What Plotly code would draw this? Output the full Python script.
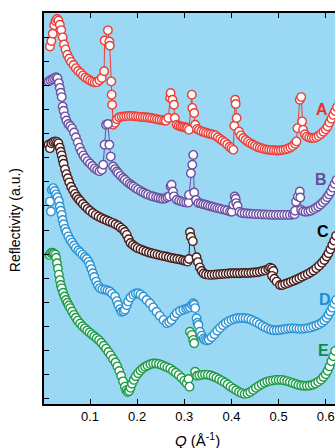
import plotly.graph_objects as go

# Momentum transfer Q (1/Å) and offset log-reflectivity for five films A–E

q_a = [0.015, 0.018, 0.021, 0.024, 0.027, 0.030, 0.033, 0.036, 0.039, 0.042, 0.045, 0.048, 0.052,
       0.056, 0.060, 0.065, 0.070, 0.075, 0.080, 0.085, 0.090, 0.095, 0.100, 0.105, 0.110, 0.115,
       0.120, 0.125, 0.130, 0.131, 0.138, 0.141, 0.142, 0.145, 0.146, 0.147, 0.149,
       0.153, 0.157, 0.162, 0.167, 0.172, 0.177, 0.182, 0.187, 0.192, 0.197, 0.202, 0.207, 0.212,
       0.217, 0.222, 0.227, 0.232, 0.237, 0.242, 0.247, 0.252, 0.257, 0.261,
       0.266, 0.270, 0.271, 0.275, 0.278, 0.280, 0.284,
       0.288, 0.292, 0.296, 0.300, 0.304, 0.306, 0.310,
       0.316, 0.317, 0.321, 0.323,
       0.327, 0.331, 0.336, 0.341, 0.346, 0.351, 0.356, 0.361, 0.366, 0.371, 0.376, 0.381, 0.386,
       0.391, 0.396, 0.400, 0.404,
       0.406, 0.408, 0.409, 0.411, 0.416,
       0.420, 0.425, 0.430, 0.435, 0.440, 0.445, 0.450, 0.455, 0.460, 0.465, 0.470, 0.475, 0.480,
       0.485, 0.490, 0.495, 0.500, 0.505, 0.510, 0.515, 0.520, 0.525, 0.530, 0.535, 0.538,
       0.540, 0.545, 0.548, 0.550, 0.552,
       0.556, 0.560, 0.565, 0.570, 0.575, 0.580, 0.585, 0.590, 0.595, 0.600, 0.604, 0.608, 0.612,
       0.616, 0.620, 0.624]
r_a = [14.62, 14.85, 15.15, 15.50, 15.68, 15.76, 15.70, 15.52, 15.30, 15.00, 14.70, 14.50, 14.28,
       14.12, 13.98, 13.85, 13.72, 13.60, 13.52, 13.42, 13.33, 13.27, 13.21, 13.16, 13.13, 13.14,
       13.22, 13.31, 13.59, 14.87, 15.29, 14.83, 14.65, 13.17, 12.62, 12.20, 11.37,
       11.45, 11.60, 11.68, 11.71, 11.72, 11.73, 11.74, 11.74, 11.73, 11.72, 11.71, 11.70, 11.69,
       11.68, 11.67, 11.66, 11.64, 11.62, 11.60, 11.58, 11.57, 11.55, 11.54,
       11.65, 12.48, 12.69, 12.41, 12.20, 11.65, 11.37,
       11.33, 11.30, 11.29, 11.28, 11.26, 11.22, 11.16,
       12.62, 12.07, 11.86, 11.37,
       11.20, 11.15, 11.10, 11.07, 11.04, 11.01, 10.99, 10.96, 10.93, 10.85, 10.78, 10.71, 10.64,
       10.55, 10.46, 10.40, 10.33,
       11.33, 12.41, 12.23, 11.65, 11.09,
       10.93, 10.82, 10.74, 10.67, 10.60, 10.55, 10.50, 10.45, 10.42, 10.39, 10.36, 10.34, 10.33,
       10.32, 10.31, 10.30, 10.30, 10.31, 10.33, 10.35, 10.38, 10.43, 10.49, 10.58, 10.68,
       11.23, 12.41, 12.52, 11.51, 11.16,
       10.98, 10.88, 10.84, 10.82, 10.82, 10.85, 10.91, 10.99, 11.08, 11.18, 11.30, 11.46, 11.62,
       11.78, 11.94, 12.10]

q_b = [0.012, 0.016, 0.020, 0.024, 0.028, 0.031, 0.034, 0.036, 0.038, 0.040, 0.042, 0.044, 0.047,
       0.050, 0.054, 0.058, 0.062, 0.066, 0.070, 0.074, 0.078, 0.082, 0.086, 0.090, 0.095, 0.100,
       0.105, 0.110, 0.115, 0.120, 0.125, 0.128,
       0.131, 0.134, 0.138, 0.141, 0.144,
       0.149, 0.153, 0.157, 0.160, 0.165, 0.170, 0.174, 0.179, 0.184, 0.188, 0.192, 0.197, 0.202,
       0.208, 0.213, 0.218, 0.223, 0.229, 0.234, 0.240, 0.245, 0.250, 0.255, 0.260, 0.264,
       0.268, 0.271, 0.273, 0.276, 0.278, 0.284,
       0.289, 0.294, 0.299, 0.304, 0.309,
       0.310, 0.314, 0.317, 0.319, 0.321, 0.325,
       0.330, 0.335, 0.340, 0.345, 0.350, 0.355, 0.360, 0.365, 0.370, 0.375, 0.380, 0.386, 0.391,
       0.397, 0.401,
       0.404, 0.407, 0.409, 0.410, 0.413, 0.417,
       0.422, 0.428, 0.434, 0.440, 0.446, 0.452, 0.458, 0.464, 0.470, 0.476, 0.482, 0.488, 0.494,
       0.500, 0.506, 0.512, 0.518, 0.524, 0.530, 0.534,
       0.535, 0.537, 0.541, 0.545, 0.546, 0.548,
       0.552, 0.557, 0.563, 0.568, 0.574, 0.579, 0.584, 0.589, 0.594, 0.599, 0.603, 0.607, 0.611,
       0.615, 0.619, 0.623]
r_b = [13.17, 13.22, 13.26, 13.30, 13.34, 13.30, 13.10, 12.90, 12.70, 12.52, 12.13, 11.95, 11.72,
       11.55, 11.40, 11.32, 11.22, 11.05, 10.85, 10.64, 10.42, 10.25, 10.10, 9.98, 9.86, 9.76,
       9.66, 9.56, 9.49, 9.44, 9.50, 9.71,
       10.54, 11.37, 11.40, 10.54, 10.05,
       9.64, 9.53, 9.43, 9.36, 9.25, 9.16, 9.09, 9.00, 8.92, 8.86, 8.81, 8.74, 8.68,
       8.61, 8.56, 8.51, 8.47, 8.42, 8.39, 8.36, 8.33, 8.31, 8.30, 8.32, 8.36,
       8.40, 8.81, 8.88, 8.60, 8.40, 8.26,
       8.22, 8.19, 8.16, 8.14, 8.14,
       8.46, 9.36, 9.71, 10.12, 8.56, 8.25,
       8.12, 8.10, 8.07, 8.05, 8.02, 7.99, 7.97, 7.94, 7.91, 7.89, 7.86, 7.84, 7.81,
       7.77, 7.76,
       8.05, 8.39, 8.30, 8.12, 8.00, 7.76,
       7.71, 7.70, 7.69, 7.68, 7.67, 7.66, 7.66, 7.65, 7.65, 7.64, 7.64, 7.63, 7.63,
       7.63, 7.63, 7.63, 7.63, 7.63, 7.64, 7.66,
       7.80, 8.18, 8.39, 8.60, 8.35, 7.84,
       7.78, 7.76, 7.77, 7.80, 7.86, 7.92, 7.98, 8.06, 8.15, 8.25, 8.36, 8.48, 8.60,
       8.76, 8.92, 9.08]

q_c = [0.012, 0.015, 0.018, 0.022, 0.026, 0.030, 0.033, 0.036, 0.038, 0.040, 0.042, 0.044, 0.047,
       0.050, 0.053, 0.056, 0.060, 0.064, 0.068, 0.072, 0.076, 0.080, 0.085, 0.090, 0.095, 0.100,
       0.106, 0.112, 0.118, 0.124, 0.130, 0.136, 0.142, 0.148, 0.154, 0.160, 0.165, 0.170, 0.174,
       0.178, 0.182, 0.186, 0.191, 0.196, 0.201, 0.207, 0.213, 0.219, 0.225, 0.231, 0.237, 0.243,
       0.249, 0.255, 0.261, 0.267, 0.273, 0.279, 0.285, 0.291, 0.297, 0.302, 0.307,
       0.310, 0.312, 0.314, 0.318, 0.326, 0.329,
       0.333, 0.337, 0.341, 0.346, 0.352, 0.358, 0.364, 0.370, 0.376, 0.382, 0.388, 0.394, 0.400,
       0.406, 0.412, 0.418, 0.424, 0.430, 0.436, 0.442, 0.448, 0.454, 0.460, 0.466,
       0.472, 0.478, 0.482, 0.486, 0.489, 0.486, 0.491, 0.496, 0.503,
       0.508, 0.514, 0.520, 0.526, 0.532, 0.538, 0.544, 0.550, 0.556, 0.562, 0.568, 0.574, 0.580,
       0.586, 0.592, 0.597, 0.602, 0.606, 0.610, 0.614, 0.618, 0.622]
r_c = [10.54, 10.40, 10.60, 10.66, 10.68, 10.66, 10.60, 10.42, 10.25, 10.10, 9.92, 9.75, 9.52,
       9.32, 9.15, 8.98, 8.80, 8.65, 8.50, 8.38, 8.28, 8.20, 8.08, 7.98, 7.88, 7.80,
       7.71, 7.63, 7.56, 7.50, 7.45, 7.40, 7.35, 7.30, 7.24, 7.18, 7.10, 7.02, 6.92,
       6.80, 6.62, 6.46, 6.38, 6.31, 6.25, 6.20, 6.15, 6.11, 6.07, 6.04, 6.01, 5.98,
       5.95, 5.92, 5.90, 5.87, 5.84, 5.82, 5.80, 5.78, 5.75, 5.72, 5.69,
       5.80, 6.91, 6.71, 6.54, 5.87, 5.67,
       5.45, 5.30, 5.20, 5.16, 5.14, 5.14, 5.15, 5.16, 5.17, 5.18, 5.19, 5.20, 5.21,
       5.21, 5.21, 5.21, 5.22, 5.22, 5.22, 5.23, 5.24, 5.25, 5.27, 5.30,
       5.33, 5.38, 5.44, 5.40, 5.30, 5.10, 4.98, 4.86, 4.72,
       4.72, 4.76, 4.80, 4.85, 4.90, 4.95, 5.00, 5.06, 5.12, 5.18, 5.25, 5.32, 5.42,
       5.52, 5.64, 5.76, 5.90, 6.04, 6.20, 6.38, 6.56, 6.76]

q_d = [0.015, 0.017, 0.019, 0.022, 0.025, 0.028, 0.031, 0.034, 0.036, 0.038, 0.040, 0.042, 0.044,
       0.047, 0.050, 0.054, 0.058, 0.062, 0.066, 0.070, 0.075, 0.079, 0.084, 0.089, 0.093, 0.097,
       0.100, 0.103, 0.106, 0.109, 0.113, 0.117, 0.121, 0.126, 0.132, 0.137, 0.142, 0.147, 0.153,
       0.157, 0.160, 0.164, 0.167, 0.171, 0.174, 0.178, 0.181, 0.186, 0.192, 0.197, 0.202, 0.207,
       0.213, 0.220, 0.227, 0.234, 0.241, 0.248, 0.256, 0.263, 0.268, 0.273, 0.279, 0.284, 0.291,
       0.298, 0.304, 0.308,
       0.312, 0.316, 0.319, 0.321, 0.323, 0.326, 0.328, 0.330, 0.333, 0.337, 0.341, 0.344,
       0.348, 0.352, 0.358, 0.364, 0.370, 0.376, 0.382, 0.388, 0.394, 0.400, 0.406, 0.412, 0.418,
       0.424, 0.430, 0.436, 0.442, 0.448, 0.454, 0.460, 0.466, 0.472, 0.478, 0.484, 0.490, 0.496,
       0.502, 0.508, 0.514, 0.520, 0.526, 0.532, 0.538, 0.544, 0.550, 0.556, 0.562, 0.568, 0.574,
       0.580, 0.586, 0.592, 0.597, 0.602, 0.606, 0.610, 0.614, 0.618, 0.622]
r_d = [8.18, 7.77, 8.67, 8.74, 8.62, 8.48, 8.36, 8.20, 7.98, 7.80, 7.63, 7.42, 7.24,
       7.05, 6.92, 6.74, 6.60, 6.48, 6.36, 6.25, 6.15, 6.08, 5.98, 5.88, 5.80, 5.68,
       5.55, 5.38, 5.21, 5.05, 4.86, 4.70, 4.59, 4.54, 4.52, 4.49, 4.45, 4.36, 4.24,
       4.05, 3.89, 3.72, 3.61, 3.63, 3.69, 3.88, 4.03, 4.20, 4.31, 4.37, 4.38, 4.33,
       4.24, 4.10, 3.96, 3.79, 3.61, 3.44, 3.27, 3.13, 3.18, 3.27, 3.42, 3.55, 3.64,
       3.69, 3.73, 3.76,
       3.80, 3.89, 3.96, 3.90, 3.76, 3.34, 3.15, 3.06, 2.78, 2.62, 2.50, 2.44,
       2.42, 2.45, 2.55, 2.68, 2.82, 2.94, 3.05, 3.14, 3.21, 3.27, 3.31, 3.34, 3.35,
       3.35, 3.34, 3.32, 3.28, 3.22, 3.16, 3.09, 3.02, 2.96, 2.90, 2.86, 2.84, 2.84,
       2.85, 2.87, 2.89, 2.91, 2.92, 2.92, 2.91, 2.90, 2.90, 2.91, 2.93, 2.96, 3.00,
       3.04, 3.09, 3.16, 3.25, 3.36, 3.48, 3.62, 3.78, 3.94, 4.10]

# None entries split off the detached group of points near Q = 0.31
q_e = [0.014, 0.017, 0.020, 0.023, 0.026, 0.028, 0.030, 0.032, 0.034, 0.036, 0.038, 0.040, 0.043,
       0.046, 0.049, 0.052, 0.055, 0.058, 0.062, 0.066, 0.070, 0.074, 0.079, 0.084, 0.089, 0.094,
       0.099, 0.104, 0.109, 0.114, 0.119, 0.124, 0.129, 0.134, 0.139, 0.144, 0.149, 0.154, 0.158,
       0.162, 0.166, 0.170, 0.174, 0.177, 0.180, 0.183, 0.186, 0.189, 0.193, 0.197, 0.202, 0.207,
       0.212, 0.217, 0.222, 0.228, 0.234, 0.240, 0.246, 0.252, 0.258, 0.264, 0.270, 0.276, 0.282,
       0.288, 0.294, 0.300, 0.305, 0.309, 0.311,
       None, 0.312, 0.316, 0.319, 0.321, None,
       0.323, 0.327, 0.332, 0.338, 0.344, 0.350, 0.356, 0.362, 0.368, 0.374, 0.380, 0.386, 0.392,
       0.398, 0.404, 0.410, 0.416, 0.422, 0.428, 0.434, 0.440, 0.446, 0.452, 0.458, 0.464, 0.470,
       0.476, 0.482, 0.488, 0.494, 0.500, 0.506, 0.512, 0.518, 0.524, 0.530, 0.536, 0.542, 0.548,
       0.554, 0.560, 0.566, 0.572, 0.578, 0.584, 0.590, 0.595, 0.600, 0.604, 0.608, 0.612, 0.616,
       0.620]
r_e = [5.97, 6.05, 6.06, 6.03, 5.98, 5.85, 5.62, 5.40, 5.15, 4.92, 4.72, 4.58, 4.40,
       4.24, 4.10, 3.98, 3.87, 3.76, 3.62, 3.48, 3.36, 3.24, 3.12, 3.01, 2.92, 2.83,
       2.75, 2.67, 2.59, 2.51, 2.43, 2.32, 2.20, 2.08, 1.94, 1.80, 1.65, 1.50, 1.34,
       1.15, 0.95, 0.72, 0.50, 0.35, 0.28, 0.32, 0.45, 0.62, 0.78, 0.93, 1.06, 1.17,
       1.26, 1.33, 1.38, 1.43, 1.46, 1.46, 1.44, 1.40, 1.35, 1.30, 1.25, 1.16, 1.08,
       0.98, 0.87, 0.75, 0.64, 0.82, 0.50,
       None, 2.78, 2.65, 2.44, 2.30, None,
       1.12, 0.95, 0.97, 0.99, 1.00, 0.99, 0.96, 0.92, 0.87, 0.81, 0.74, 0.67, 0.59,
       0.50, 0.42, 0.35, 0.28, 0.23, 0.20, 0.22, 0.28, 0.36, 0.45, 0.53, 0.60, 0.66,
       0.71, 0.74, 0.76, 0.78, 0.78, 0.78, 0.76, 0.73, 0.69, 0.65, 0.61, 0.57, 0.55,
       0.54, 0.54, 0.55, 0.58, 0.63, 0.70, 0.79, 0.90, 1.02, 1.16, 1.34, 1.55, 1.76,
       1.98]

labels = ["A", "B", "C", "D", "E"]
label_q = [0.593, 0.591, 0.595, 0.598, 0.595]
label_r = [12.00, 9.09, 6.92, 4.10, 1.99]
x_ticks = [0.1, 0.2, 0.3, 0.4, 0.5, 0.6]

series = [
    (q_a, r_a, "#e8403a", "#e8322c"),
    (q_b, r_b, "#6b50a3", "#6a4a9e"),
    (q_c, r_c, "#4a1e1c", "#000000"),
    (q_d, r_d, "#2a93d5", "#1b8ed6"),
    (q_e, r_e, "#1f9b48", "#13894a"),
]

fig = go.Figure()
for (qq, rr, col, _), name in zip(series, labels):
    fig.add_trace(go.Scatter(
        x=qq, y=rr, mode="lines+markers", name=name,
        line=dict(color=col, width=1),
        marker=dict(size=8.5, color="white", line=dict(color=col, width=1.4)),
        connectgaps=False, showlegend=False, cliponaxis=True,
    ))

for name, lq, lr, (_, _, _, tcol) in zip(labels, label_q, label_r, series):
    fig.add_annotation(x=lq, y=lr, text=f"<b>{name}</b>", showarrow=False,
                       font=dict(family="Liberation Sans, Arial", size=16, color=tcol),
                       xanchor="center", yanchor="middle")

fig.add_annotation(xref="paper", yref="paper", x=-0.0997, y=0.47,
                   text="Reflectivity (a.u.)", textangle=-90, showarrow=False,
                   font=dict(family="Liberation Sans, Arial", size=14, color="black"),
                   xanchor="center", yanchor="middle")
fig.add_annotation(xref="paper", yref="paper", x=0.526, y=-0.092,
                   text="<i>Q</i> (Å<sup>-1</sup>)", showarrow=False,
                   font=dict(family="Liberation Sans, Arial", size=15, color="black"),
                   xanchor="center", yanchor="middle")

fig.update_layout(
    width=335, height=448,
    margin=dict(l=44, r=0, t=13, b=44),
    paper_bgcolor="white", plot_bgcolor="#9ad8f3",
    showlegend=False,
)
fig.update_xaxes(
    range=[0.0024, 0.6197], tickvals=x_ticks, ticktext=[f"{v:.1f}" for v in x_ticks],
    ticks="inside", ticklen=5, tickwidth=1.2, tickcolor="black",
    showline=True, linecolor="black", linewidth=1.5, mirror="ticks",
    showgrid=False, zeroline=False,
    tickfont=dict(family="Liberation Sans, Arial", size=13, color="black"),
)
fig.update_yaxes(
    range=[-0.22, 16.01], tickvals=list(range(16)), showticklabels=False,
    ticks="inside", ticklen=5, tickwidth=1.2, tickcolor="black",
    showline=True, linecolor="black", linewidth=1.5, mirror=False,
    showgrid=False, zeroline=False,
)

fig.write_html("out.html")
